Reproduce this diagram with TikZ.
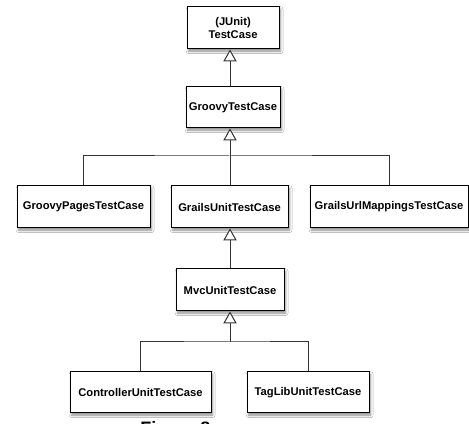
\documentclass[tikz,border=0pt]{standalone}
\usepackage{fontspec}
\setmainfont{Liberation Sans}
\usetikzlibrary{arrows.meta,shadows.blur}
\begin{document}
\begin{tikzpicture}[x=0.75pt,y=-0.75pt,
  cls/.style={draw=black,line width=0.75pt,fill=white,inner sep=0pt,align=center,
    font=\fontsize{8.4pt}{9.6pt}\selectfont\bfseries,
    blur shadow={shadow xshift=1.2pt,shadow yshift=-1.6pt,shadow blur radius=1.8pt,shadow opacity=45}},
  link/.style={draw=black!80,line width=0.75pt},
  inh/.style={link,-{Triangle[length=9pt,width=10pt,fill=white,line width=0.75pt]}}]
\useasboundingbox (0,0) rectangle (469,424);
\fill[white] (0,0) rectangle (469,424);
\node[cls,minimum width=69pt,minimum height=31.5pt] (junit) at (233,28) {(JUnit)\\TestCase};
\node[cls,minimum width=70.5pt,minimum height=30.75pt] (gtc) at (233,107.5) {GroovyTestCase};
\node[cls,minimum width=99.75pt,minimum height=31.5pt] (gpt) at (83.5,207) {GroovyPagesTestCase};
\node[cls,minimum width=87.75pt,minimum height=31.5pt] (gut) at (229.5,207) {GrailsUnitTestCase};
\node[cls,minimum width=118.5pt,minimum height=31.5pt] (url) at (389,207) {GrailsUrlMappingsTestCase};
\node[cls,minimum width=81pt,minimum height=31.5pt] (mvc) at (230,290) {MvcUnitTestCase};
\node[cls,minimum width=105.75pt,minimum height=30.75pt] (cut) at (140.5,392.5) {ControllerUnitTestCase};
\node[cls,minimum width=91.5pt,minimum height=30.75pt] (tag) at (308,392.5) {TagLibUnitTestCase};
\coordinate (bus1) at (230,156);
\coordinate (bus2) at (230,342);
% connectors
\draw[inh] (gtc.north -| bus1) -- (junit.south -| bus1);
\draw[inh] (bus1) -- (gtc.south -| bus1);
\draw[link] (gut.north -| bus1) -- (bus1);
\draw[link] (gpt.north) |- (bus1) -| (url.north);
\draw[inh] (mvc.north -| bus1) -- (gut.south -| bus1);
\draw[inh] (bus2) -- (mvc.south -| bus2);
\draw[link] (cut.north) |- (bus2) -| (tag.north);
\node[anchor=base west,inner sep=0pt,font=\fontsize{13.5pt}{16pt}\selectfont\bfseries] (cap) at (140,435) {Figure 8};
\end{tikzpicture}
\end{document}
